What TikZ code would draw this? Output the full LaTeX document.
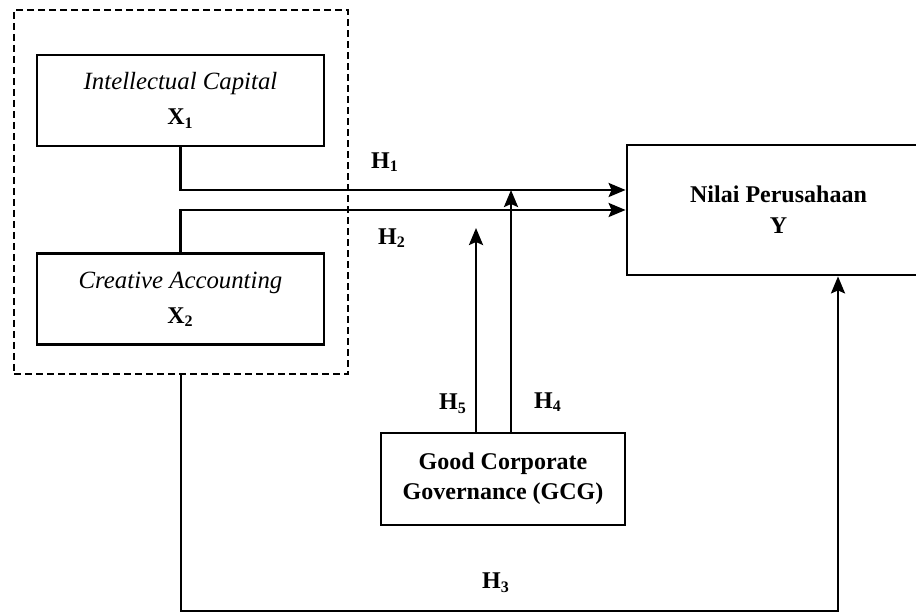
\documentclass[tikz,border=0pt]{standalone}
\usepackage{fontspec}
\setmainfont{Liberation Serif}
\usetikzlibrary{positioning,arrows.meta}

\begin{document}
\begin{tikzpicture}[%
    x=0.5pt, y=-0.5pt,
    font=\fontsize{12}{14}\selectfont,
    varbox/.style={draw, line width=1.4pt, minimum width=143.5pt, minimum height=45.5pt, align=center, inner sep=0pt},
    groupbox/.style={draw, line width=1.3pt, dash pattern=on 3.5pt off 2pt, minimum width=167pt, minimum height=182pt, inner sep=0pt},
    link/.style={line width=1.3pt},
    arrow/.style={link, -{Stealth[length=8.5pt,width=7pt,inset=1.5pt]}},
    hlabel/.style={font=\fontsize{12}{14}\selectfont\bfseries}]

    \useasboundingbox (0,0) rectangle (916,613);

    % variables
    \node[varbox] (ic) at (180.5,100.5) {\fontsize{12.4}{14}\selectfont\textit{Intellectual Capital}\\[3.5pt] \textbf{X\textsubscript{1}}};
    \node[varbox, below=52.5pt of ic] (ca) {\fontsize{12.4}{14}\selectfont\textit{Creative Accounting}\\[3.5pt] \textbf{X\textsubscript{2}}};
    \node[groupbox] (group) at (181,192) {};

    \node[varbox, minimum width=151.5pt, minimum height=65pt] (nilai) at (778.5,210) {\textbf{Nilai Perusahaan}\\[1.5pt] \textbf{Y}};
    \node[varbox, minimum width=122pt, minimum height=46pt] (gcg) at (503,479) {\textbf{Good Corporate}\\[1pt] \textbf{Governance (GCG)}};

    \coordinate (m4) at (511,190);
    \coordinate (m5) at (476,228);
    \coordinate (h3turn) at (838,611);

    % paths
    \draw[arrow] (ic.south) |- ([yshift=10pt]nilai.west);
    \draw[arrow] (ca.north) |- (nilai.west);
    \draw[arrow] ([xshift=4pt]gcg.north) -- (m4);
    \draw[arrow] ([xshift=-13.5pt]gcg.north) -- (m5);
    \draw[arrow] (group.south) |- (h3turn) -- (h3turn |- nilai.south);

    % labels
    \node[hlabel] (h1) at (385,162) {H\textsubscript{1}};
    \node[hlabel] (h2) at (392,238) {H\textsubscript{2}};
    \node[hlabel] (h3) at (496,583) {H\textsubscript{3}};
    \node[hlabel] (h4) at (548,402) {H\textsubscript{4}};
    \node[hlabel] (h5) at (453,404) {H\textsubscript{5}};
\end{tikzpicture}
\end{document}
